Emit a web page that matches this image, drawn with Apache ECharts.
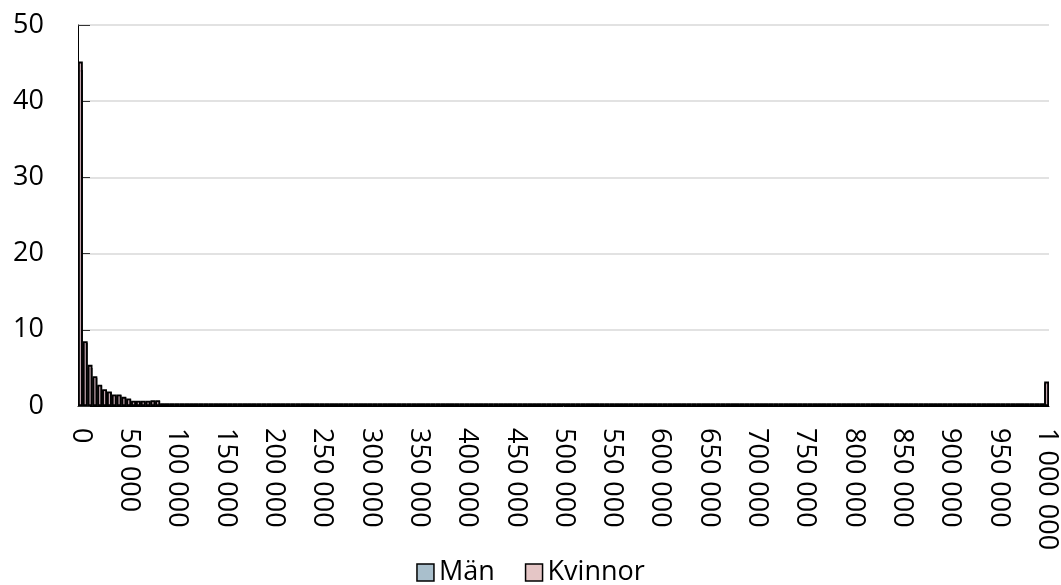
<!DOCTYPE html>
<html>
<head>
<meta charset="utf-8">
<style>html,body{margin:0;padding:0;background:#fff}#c{width:1061px;height:585px}</style>
<script src="https://cdn.jsdelivr.net/npm/echarts@6/dist/echarts.min.js"></script>
</head>
<body>
<div id="c"></div>
<script>
// Bin starts, 5 000 steps from 0 to 1 000 000
const binStarts = [];
for (let v = 0; v <= 1000000; v += 5000) binStarts.push(v);
const categories = binStarts.map(v => String(v).replace(/\B(?=(\d{3})+(?!\d))/g, ' '));

// Values (percent)
const manHead = [44.1, 8.3, 5.0, 3.7, 2.7, 2.1, 1.8, 1.4, 1.4, 1.1, 0.9, 0.6, 0.6, 0.6, 0.6, 0.65, 0.65];
const kvinnorHead = [45.2, 8.5, 5.4, 3.9, 2.8, 2.2, 1.9, 1.5, 1.5, 1.2, 1.0, 0.7, 0.7, 0.7, 0.7, 0.75, 0.75];
const manTail = 0.3;       // bins 85 000 .. 995 000
const kvinnorTail = 0.35;
const manLast = 3.0;       // 1 000 000+
const kvinnorLast = 3.2;

const manValues = categories.map((c, i) => i < manHead.length ? manHead[i] : (i === categories.length - 1 ? manLast : manTail));
const kvinnorValues = categories.map((c, i) => i < kvinnorHead.length ? kvinnorHead[i] : (i === categories.length - 1 ? kvinnorLast : kvinnorTail));

const FONT = '"Open Sans", "Noto Sans", sans-serif';
const chart = echarts.init(document.getElementById('c'));
chart.setOption({
  animation: false,
  grid: { left: 78, right: 12, top: 25, bottom: 179 },
  legend: {
    bottom: -6, left: 'center',
    itemWidth: 17, itemHeight: 17, itemGap: 30,
    textStyle: { fontSize: 27, fontFamily: FONT, color: '#000' },
    data: [
      { name: 'Män', icon: 'rect', itemStyle: { color: '#a9bfcc', borderColor: '#000', borderWidth: 1.5 } },
      { name: 'Kvinnor', icon: 'rect', itemStyle: { color: '#e5c6c6', borderColor: '#000', borderWidth: 1.5 } }
    ]
  },
  xAxis: {
    type: 'category', data: categories,
    axisLine: { lineStyle: { color: '#000', width: 1 } },
    axisTick: { show: false },
    axisLabel: { interval: 9, rotate: -90, fontSize: 27, fontFamily: FONT, color: '#000', margin: 22 }
  },
  yAxis: {
    type: 'value', min: 0, max: 50, interval: 10,
    axisLine: { show: true, lineStyle: { color: '#000', width: 1 } },
    axisTick: { show: true, inside: true, length: 12, lineStyle: { color: '#333', width: 1 } },
    splitLine: { lineStyle: { color: '#d9d9d9', width: 1.5 } },
    axisLabel: { fontSize: 27, fontFamily: FONT, color: '#000', margin: 34 }
  },
  series: [
    { name: 'Män', type: 'bar', data: manValues, barCategoryGap: '0%', barGap: '-100%',
      itemStyle: { color: '#a9bfcc', borderColor: '#000', borderWidth: 1.8 } },
    { name: 'Kvinnor', type: 'bar', data: kvinnorValues, barCategoryGap: '0%', barGap: '-100%',
      itemStyle: { color: 'rgba(200,165,175,0.9)', borderColor: '#000', borderWidth: 1.8 } }
  ]
});
</script>
</body>
</html>
